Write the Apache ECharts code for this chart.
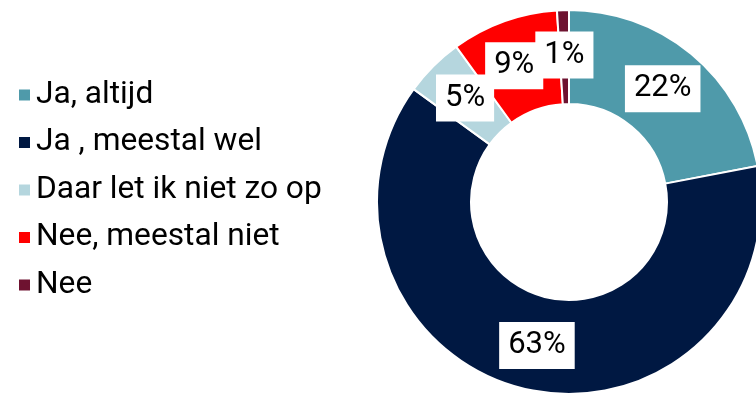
<!DOCTYPE html>
<html>
<head>
<meta charset="utf-8">
<script src="https://cdn.jsdelivr.net/npm/echarts@6/dist/echarts.min.js"></script>
<style>
  html, body { margin: 0; padding: 0; background: #fff; }
  #chart { width: 756px; height: 395px; }
</style>
</head>
<body>
<div id="chart"></div>
<script>
// Answer categories and their shares (%)
const categories = ['Ja, altijd', 'Ja , meestal wel', 'Daar let ik niet zo op', 'Nee, meestal niet', 'Nee'];
const values = [22, 63, 5, 9, 1];
const colors = ['#4F9AAA', '#001842', '#B5D6DE', '#FF0000', '#6E1230'];

const CENTER = [569, 202];
const R_INNER = 98;
const R_OUTER = 192;
const R_LABEL = 147;

// Small nudges so the crowded labels near the top don't cover each other.
const labelNudge = { 3: [-5, 2] };

// Value labels sit in the ring, at each slice's mid angle.
const total = values.reduce((a, b) => a + b, 0);
let acc = 0;
const labelPoints = values.map((v, i) => {
  const mid = acc + v / 2;
  acc += v;
  const point = { value: [R_LABEL, mid], share: v };
  if (labelNudge[i]) point.label = { offset: labelNudge[i] };
  return point;
});

const chart = echarts.init(document.getElementById('chart'), null, { renderer: 'canvas' });

chart.setOption({
  animation: false,
  color: colors,
  legend: {
    orient: 'vertical',
    left: 12,
    top: 72,
    itemWidth: 13,
    itemHeight: 13,
    itemGap: 11.5,
    icon: 'rect',
    data: categories,
    textStyle: {
      fontFamily: 'Roboto',
      fontSize: 31.7,
      lineHeight: 36,
      color: '#000'
    }
  },
  polar: { center: CENTER, radius: R_OUTER },
  angleAxis: {
    type: 'value', min: 0, max: total, startAngle: 90, clockwise: true,
    axisLine: { show: false }, axisTick: { show: false },
    axisLabel: { show: false }, splitLine: { show: false }
  },
  radiusAxis: {
    type: 'value', min: 0, max: R_OUTER,
    axisLine: { show: false }, axisTick: { show: false },
    axisLabel: { show: false }, splitLine: { show: false }
  },
  series: [{
    type: 'pie',
    center: CENTER,
    radius: [R_INNER, R_OUTER],
    startAngle: 90,
    clockwise: true,
    itemStyle: { borderColor: '#fff', borderWidth: 2 },
    label: { show: false },
    labelLine: { show: false },
    emphasis: { disabled: true },
    data: categories.map((name, i) => ({ name, value: values[i] }))
  }, {
    type: 'scatter',
    coordinateSystem: 'polar',
    symbolSize: 1,
    itemStyle: { color: 'rgba(0,0,0,0)', opacity: 1 },
    silent: true,
    z: 5,
    label: {
      show: true,
      position: 'inside',
      formatter: (p) => p.data.share + '%',
      fontFamily: 'Roboto',
      fontSize: 31,
      lineHeight: 35,
      color: '#000',
      backgroundColor: '#fff',
      padding: [6, 9]
    },
    data: labelPoints
  }]
});
</script>
</body>
</html>
